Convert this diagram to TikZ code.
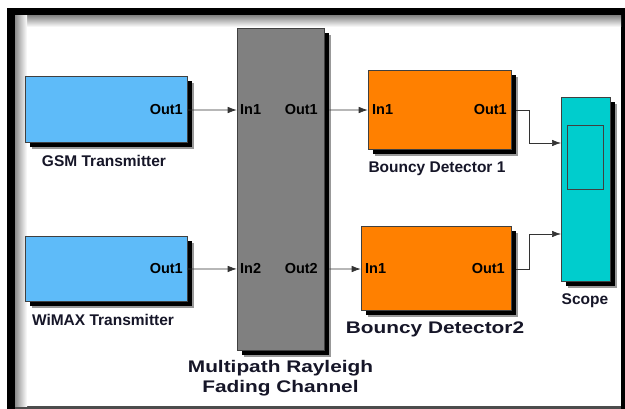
\documentclass[tikz,border=0pt]{standalone}
\usepackage{fontspec}
\newfontfamily\lblfont{Liberation Sans}
\newfontfamily\widefont[FakeStretch=1.24]{Liberation Sans}
\usetikzlibrary{arrows.meta,calc}
\definecolor{gsmblue}{HTML}{5EBBF9}
\definecolor{bdorange}{HTML}{FF8000}
\definecolor{changray}{HTML}{808080}
\definecolor{scopecyan}{HTML}{00CDCD}
\definecolor{lbltext}{RGB}{22,22,40}
\tikzset{
  blk/.style={draw=black!75, line width=0.6pt, inner sep=0pt,
    preaction={fill=black!40, draw=none, transform canvas={xshift=7pt, yshift=-7pt}},
    preaction={fill=black, draw=none, transform canvas={xshift=5pt, yshift=-5pt}}},
  port/.style={font=\lblfont\bfseries\fontsize{14.5}{17}\selectfont, text=black, inner sep=0pt},
  blabel/.style={font=\lblfont\bfseries\fontsize{15.5}{18}\selectfont, text=lbltext, inner sep=0pt},
  biglabel/.style={font=\widefont\bfseries\fontsize{16.8}{20}\selectfont, text=lbltext, inner sep=0pt, align=center},
  conn/.style={draw=black!80, line width=0.7pt, -{Latex[length=9pt,width=6.5pt]}}
}
\begin{document}
\begin{tikzpicture}[x=1pt,y=-1pt]
\useasboundingbox (0,0) rectangle (625,409);
% frame
\fill[white] (0,0) rectangle (625,409);
\fill[black] (7,8) rectangle (625,409);
\fill[black!70] (15,406) rectangle (621,409);
\fill[white] (15,16) rectangle (621,406.5);
\shade[top color=black!45, bottom color=white] (15,16) rectangle (621,27);
\shade[left color=black!45, right color=white] (15,16) rectangle (27,406.5);

% blocks
\node[blk, fill=gsmblue, minimum width=162pt, minimum height=66pt] (gsm) at (106,109) {};
\node[blk, fill=gsmblue, minimum width=162pt, minimum height=65pt] (wimax) at (106,268.5) {};
\node[blk, fill=changray, minimum width=87pt, minimum height=322pt] (chan) at (280.5,189) {};
\node[blk, fill=bdorange, minimum width=143pt, minimum height=79pt] (bd1) at (439.5,109.5) {};
\node[blk, fill=bdorange, minimum width=150pt, minimum height=84pt] (bd2) at (436,268) {};
\node[blk, fill=scopecyan, minimum width=49pt, minimum height=184pt] (scope) at (585.5,189) {};
\node[draw=black!75, line width=0.6pt, fill=scopecyan, minimum width=36pt, minimum height=64pt, inner sep=0pt] (screen) at (585,157) {};

% port labels
\node[port, anchor=base east] (gsmout) at (183,115) {Out1};
\node[port, anchor=base east] (wimaxout) at (183,274) {Out1};
\node[port, anchor=base west] (cin1) at (240,115) {In1};
\node[port, anchor=base east] (cout1) at (318,115) {Out1};
\node[port, anchor=base west] (cin2) at (240,274) {In2};
\node[port, anchor=base east] (cout2) at (318,274) {Out2};
\node[port, anchor=base west] (bd1in) at (372,115) {In1};
\node[port, anchor=base east] (bd1out) at (507,115) {Out1};
\node[port, anchor=base west] (bd2in) at (365,274) {In1};
\node[port, anchor=base east] (bd2out) at (505,274) {Out1};

% block labels
\node[blabel, anchor=base] (gsmlbl) at (104,167) {GSM Transmitter};
\node[blabel, anchor=base] (wimaxlbl) at (103,326) {WiMAX Transmitter};
\node[blabel, anchor=base] (bd1lbl) at (437,173) {Bouncy Detector 1};
\node[biglabel, anchor=base] (bd2lbl) at (435,334) {Bouncy Detector2};
\node[blabel, anchor=base] (scopelbl) at (585,305) {Scope};
\node[biglabel, anchor=base] (chanlbl) at (280.5,392) {Multipath Rayleigh\\Fading Channel};

% connectors
\coordinate (sin1) at (561,143);
\coordinate (sin2) at (561,234);
\draw[conn] (gsm.east |- gsmout) -- (chan.west |- cin1);
\draw[conn] (wimax.east |- wimaxout) -- (chan.west |- cin2);
\draw[conn] ($(chan.east |- cout1)+(5,0)$) -- (bd1.west |- bd1in);
\draw[conn] ($(chan.east |- cout2)+(5,0)$) -- (bd2.west |- bd2in);
\draw[conn] ($(bd1.east |- bd1out)+(5,0)$) -- ++(13,0) |- (sin1);
\draw[conn] ($(bd2.east |- bd2out)+(5,0)$) -- ++(13,0) |- (sin2);
\end{tikzpicture}
\end{document}
